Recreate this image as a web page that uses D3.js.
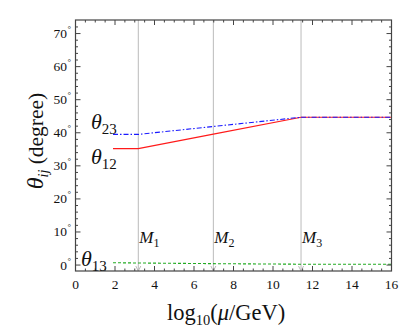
<!DOCTYPE html>
<html>
<head>
<meta charset="utf-8">
<script src="https://cdn.jsdelivr.net/npm/d3@7"></script>
<style>
  body { margin: 0; background: #fff; }
  text { font-family: "Liberation Serif", "DejaVu Serif", serif; }
</style>
</head>
<body>
<svg id="chart" width="415" height="332"></svg>
<script>
// scale points (log10 mu) where the running changes
const mu = [1.9, 3.18, 6.98, 11.42, 16];
const theta23 = [39.5, 39.5, 41.9, 44.7, 44.7];
const theta12 = [35.2, 35.2, 39.6, 44.7, 44.7];
const theta13 = [0.7, 0.62, 0.42, 0.25, 0.22];

const thresholds = [3.18, 6.98, 11.42];
const thresholdNames = ['1', '2', '3'];

const xTicks = [0, 2, 4, 6, 8, 10, 12, 14, 16];
const yTicks = [0, 10, 20, 30, 40, 50, 60, 70];

const svg = d3.select('#chart');
const plotL = 75.5, plotR = 391.5, plotT = 20, plotB = 271;

const x = d3.scaleLinear().domain([0, 16]).range([plotL, plotR]);
const y = d3.scaleLinear().domain([-1.8, 74.1]).range([plotB, plotT]);

// threshold lines
thresholds.forEach((t, i) => {
  svg.append('line')
    .attr('x1', x(t)).attr('x2', x(t))
    .attr('y1', plotT).attr('y2', plotB)
    .attr('stroke', '#bbb').attr('stroke-width', 1);
  svg.append('path')
    .attr('d', `M${x(t) - 2.5},${plotB - 5}L${x(t)},${plotB}L${x(t) + 2.5},${plotB - 5}`)
    .attr('fill', 'none').attr('stroke', '#bbb');
  const lab = svg.append('text')
    .attr('x', x(t) + 1).attr('y', 243)
    .attr('font-size', 17).attr('font-style', 'italic').attr('fill', '#111');
  lab.append('tspan').text('M');
  lab.append('tspan').attr('dy', 4).attr('font-size', 12).attr('font-style', 'normal').text(thresholdNames[i]);
});

const line = d3.line().x((d, i) => x(mu[i])).y(d => y(d));

svg.append('path').datum(theta13)
  .attr('d', line).attr('fill', 'none')
  .attr('stroke', '#22aa22').attr('stroke-width', 1.1)
  .attr('stroke-dasharray', '3,2');

svg.append('path').datum(theta12)
  .attr('d', line).attr('fill', 'none')
  .attr('stroke', '#ff1a1a').attr('stroke-width', 1.1);

svg.append('path').datum(theta23)
  .attr('d', line).attr('fill', 'none')
  .attr('stroke', '#1a1aff').attr('stroke-width', 1.1)
  .attr('stroke-dasharray', '5,2,1.5,2');

// frame with inward ticks on all sides
const frame = '#444';
svg.append('rect')
  .attr('x', plotL).attr('y', plotT)
  .attr('width', plotR - plotL).attr('height', plotB - plotT)
  .attr('fill', 'none').attr('stroke', frame).attr('stroke-width', 1.2);

const xMinor = d3.range(0, 16.01, 0.5);
xMinor.forEach(v => {
  const major = Math.abs(v % 2) < 1e-6;
  const len = major ? 5 : 2.5;
  svg.append('line').attr('x1', x(v)).attr('x2', x(v))
    .attr('y1', plotB).attr('y2', plotB - len).attr('stroke', frame);
  svg.append('line').attr('x1', x(v)).attr('x2', x(v))
    .attr('y1', plotT).attr('y2', plotT + len).attr('stroke', frame);
});
const yMinor = d3.range(0, 74, 2);
yMinor.forEach(v => {
  const major = v % 10 === 0;
  const len = major ? 5 : 2.5;
  svg.append('line').attr('x1', plotL).attr('x2', plotL + len)
    .attr('y1', y(v)).attr('y2', y(v)).attr('stroke', frame);
  svg.append('line').attr('x1', plotR).attr('x2', plotR - len)
    .attr('y1', y(v)).attr('y2', y(v)).attr('stroke', frame);
});

// tick labels
svg.selectAll('.xt').data(xTicks).enter().append('text')
  .attr('x', d => x(d)).attr('y', 289)
  .attr('text-anchor', 'middle').attr('font-size', 13.5).attr('fill', '#111')
  .text(d => d);

yTicks.forEach(v => {
  svg.append('text')
    .attr('x', 67).attr('y', y(v) + 4.5)
    .attr('text-anchor', 'end').attr('font-size', 13.5).attr('fill', '#111')
    .text(v);
  svg.append('text')
    .attr('x', 67.5).attr('y', y(v) - 1.5)
    .attr('font-size', 9).attr('fill', '#111').text('\u00b0');
});

// curve labels
function thetaLabel(px, py, sub) {
  const t = svg.append('text').attr('x', px).attr('y', py)
    .attr('font-size', 22).attr('fill', '#111');
  t.append('tspan').attr('font-style', 'italic').text('\u03b8');
  t.append('tspan').attr('dy', 5).attr('font-size', 15).text(sub);
}
thetaLabel(91, 129, '23');
thetaLabel(91, 164, '12');
thetaLabel(81, 266, '13');

// axis titles
const xl = svg.append('text').attr('x', 167).attr('y', 320)
  .attr('font-size', 22.5).attr('fill', '#111');
xl.append('tspan').text('log');
xl.append('tspan').attr('dy', 5).attr('font-size', 14.5).text('10');
xl.append('tspan').attr('dy', -5).text('(');
xl.append('tspan').attr('font-style', 'italic').text('\u03bc');
xl.append('tspan').text('/GeV)');

const yl = svg.append('text')
  .attr('transform', 'translate(43,141) rotate(-90)')
  .attr('text-anchor', 'middle').attr('font-size', 21.5).attr('fill', '#111');
yl.append('tspan').attr('font-style', 'italic').attr('font-size', 24).text('\u03b8');
yl.append('tspan').attr('dy', 5).attr('font-size', 14).attr('font-style', 'italic').text('ij');
yl.append('tspan').attr('dy', -5).text(' (degree)');
</script>
</body>
</html>
